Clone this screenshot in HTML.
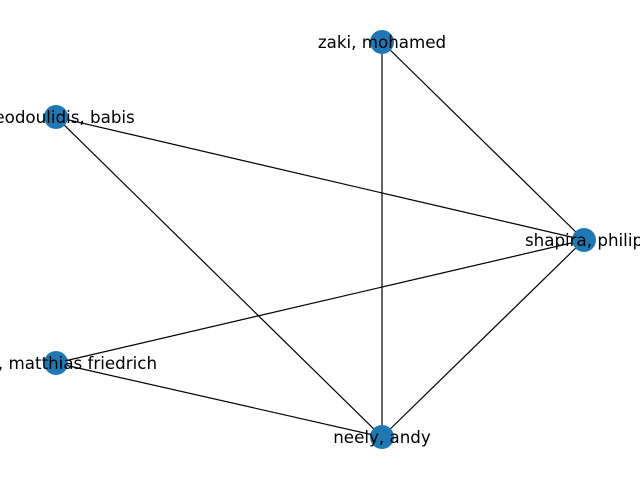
<!DOCTYPE html>
<html><head><meta charset="utf-8"><style>html,body{margin:0;padding:0;background:#fff;overflow:hidden}</style></head>
<body>
<svg width="640" height="480" viewBox="0 0 640 480" xmlns="http://www.w3.org/2000/svg">
<g stroke="#000" stroke-width="1.2">
<line x1="382" y1="42" x2="584" y2="240"/>
<line x1="382" y1="42" x2="382" y2="437"/>
<line x1="56" y1="117" x2="584" y2="240"/>
<line x1="56" y1="117" x2="382" y2="437"/>
<line x1="584" y1="240" x2="56" y2="363"/>
<line x1="584" y1="240" x2="382" y2="437"/>
<line x1="56" y1="363" x2="382" y2="437"/>
</g>
<g fill="#1f77b4">
<circle cx="382" cy="42" r="12"/>
<circle cx="56" cy="117" r="12"/>
<circle cx="584" cy="240" r="12"/>
<circle cx="56" cy="363" r="12"/>
<circle cx="382" cy="437" r="12"/>
</g>
<g font-family="DejaVu Sans, sans-serif" font-size="16.7" text-anchor="middle" fill="#000">
<text x="382" y="48">zaki, mohamed</text>
<text x="56" y="123">theodoulidis, babis</text>
<text x="584" y="246">shapira, philip</text>
<text x="56" y="369">ribbe, matthias friedrich</text>
<text x="382" y="443">neely, andy</text>
</g>
</svg>
</body></html>
